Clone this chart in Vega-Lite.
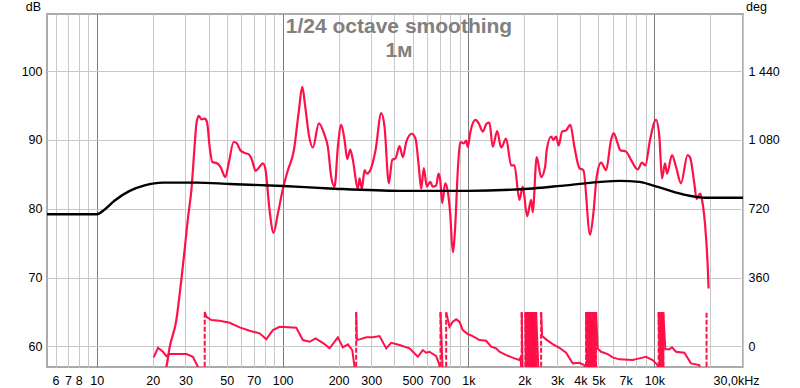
{
  "$schema": "https://vega.github.io/schema/vega-lite/v6.json",
  "width": 696,
  "height": 353,
  "autosize": {"type": "none"},
  "padding": {"left": 47, "top": 14, "right": 57, "bottom": 21},
  "background": "white",
  "config": {
    "view": {"stroke": "#ababab", "strokeWidth": 2},
    "font": "Liberation Sans"
  },
  "title": {
    "text": "1/24 octave smoothing",
    "subtitle": "1м",
    "anchor": "middle",
    "frame": "group",
    "offset": -61,
    "dx": 4,
    "font": "Liberation Sans",
    "fontSize": 21,
    "fontWeight": "bold",
    "color": "#808080",
    "subtitleFont": "Liberation Sans",
    "subtitleFontSize": 21,
    "subtitleFontWeight": "bold",
    "subtitleColor": "#808080",
    "subtitlePadding": 3
  },
  "datasets": {
    "mag": [
      {"freq": 21.8, "db": 54.4}, {"freq": 23.7, "db": 57.0}, {"freq": 24.7, "db": 59.9}, {"freq": 26.8, "db": 63.8},
      {"freq": 28.5, "db": 69.6}, {"freq": 29.7, "db": 74.0}, {"freq": 31.0, "db": 78.8}, {"freq": 32.3, "db": 82.7},
      {"freq": 33.6, "db": 89.0}, {"freq": 34.4, "db": 92.4}, {"freq": 35.4, "db": 93.5}, {"freq": 36.6, "db": 93.0},
      {"freq": 38.1, "db": 93.1}, {"freq": 39.2, "db": 92.6}, {"freq": 40.5, "db": 89.0}, {"freq": 41.9, "db": 86.8},
      {"freq": 44.4, "db": 86.6}, {"freq": 46.3, "db": 86.1}, {"freq": 49.2, "db": 84.6}, {"freq": 51.3, "db": 86.6},
      {"freq": 54.5, "db": 89.7}, {"freq": 56.4, "db": 89.6}, {"freq": 59.2, "db": 88.5}, {"freq": 62.5, "db": 88.1},
      {"freq": 65.9, "db": 87.9}, {"freq": 68.4, "db": 87.1}, {"freq": 71.6, "db": 85.5}, {"freq": 75.2, "db": 86.1},
      {"freq": 78.4, "db": 86.6}, {"freq": 81.0, "db": 85.6}, {"freq": 85.1, "db": 79.8}, {"freq": 89.4, "db": 76.5},
      {"freq": 94.3, "db": 79.3}, {"freq": 100.4, "db": 82.9}, {"freq": 106.8, "db": 85.6}, {"freq": 115.0, "db": 88.5},
      {"freq": 121.9, "db": 93.9}, {"freq": 127.6, "db": 97.7}, {"freq": 132.4, "db": 94.8}, {"freq": 138.5, "db": 90.7},
      {"freq": 145.5, "db": 88.9}, {"freq": 156.7, "db": 92.4}, {"freq": 168.2, "db": 90.7}, {"freq": 175.2, "db": 89.0},
      {"freq": 182.7, "db": 84.6}, {"freq": 190.4, "db": 83.2}, {"freq": 198.3, "db": 89.0}, {"freq": 206.8, "db": 92.2},
      {"freq": 215.4, "db": 90.0}, {"freq": 222.7, "db": 87.2}, {"freq": 231.2, "db": 88.6}, {"freq": 238.8, "db": 87.1},
      {"freq": 254.0, "db": 82.9}, {"freq": 259.4, "db": 84.4}, {"freq": 266.9, "db": 82.9}, {"freq": 276.0, "db": 85.6},
      {"freq": 284.0, "db": 85.1}, {"freq": 296.2, "db": 85.6}, {"freq": 316.2, "db": 88.5}, {"freq": 339.4, "db": 93.9},
      {"freq": 353.6, "db": 91.9}, {"freq": 372.9, "db": 83.7}, {"freq": 388.9, "db": 87.1}, {"freq": 405.1, "db": 87.3},
      {"freq": 425.6, "db": 89.1}, {"freq": 443.6, "db": 87.5}, {"freq": 462.7, "db": 89.7}, {"freq": 495.8, "db": 90.9},
      {"freq": 519.0, "db": 90.2}, {"freq": 540.6, "db": 86.1}, {"freq": 556.9, "db": 82.9}, {"freq": 575.1, "db": 85.9},
      {"freq": 596.9, "db": 83.2}, {"freq": 622.6, "db": 83.9}, {"freq": 643.0, "db": 83.2}, {"freq": 670.6, "db": 83.4},
      {"freq": 690.1, "db": 85.1}, {"freq": 704.7, "db": 84.2}, {"freq": 722.4, "db": 80.8}, {"freq": 749.7, "db": 83.7},
      {"freq": 774.2, "db": 82.5}, {"freq": 797.6, "db": 79.3}, {"freq": 823.7, "db": 73.7}, {"freq": 848.5, "db": 77.4},
      {"freq": 876.3, "db": 85.6}, {"freq": 905.9, "db": 89.7}, {"freq": 943.5, "db": 89.5}, {"freq": 971.9, "db": 89.9},
      {"freq": 991.3, "db": 89.0}, {"freq": 1025, "db": 91.2}, {"freq": 1090, "db": 92.9}, {"freq": 1136, "db": 92.4},
      {"freq": 1194, "db": 91.2}, {"freq": 1254, "db": 92.4}, {"freq": 1297, "db": 92.5}, {"freq": 1351, "db": 89.0},
      {"freq": 1427, "db": 91.3}, {"freq": 1499, "db": 88.9}, {"freq": 1595, "db": 90.2}, {"freq": 1697, "db": 86.3},
      {"freq": 1767, "db": 86.3}, {"freq": 1880, "db": 81.3}, {"freq": 1959, "db": 83.2}, {"freq": 2069, "db": 78.9},
      {"freq": 2174, "db": 81.3}, {"freq": 2217, "db": 79.5}, {"freq": 2329, "db": 87.5}, {"freq": 2460, "db": 84.6},
      {"freq": 2585, "db": 86.1}, {"freq": 2636, "db": 88.5}, {"freq": 2783, "db": 90.5}, {"freq": 2864, "db": 90.0},
      {"freq": 2961, "db": 90.5}, {"freq": 3058, "db": 89.2}, {"freq": 3190, "db": 91.2}, {"freq": 3352, "db": 91.4},
      {"freq": 3534, "db": 92.2}, {"freq": 3715, "db": 89.0}, {"freq": 3953, "db": 85.9}, {"freq": 4153, "db": 85.6},
      {"freq": 4511, "db": 76.2}, {"freq": 4699, "db": 79.3}, {"freq": 4895, "db": 84.6}, {"freq": 5170, "db": 86.7},
      {"freq": 5499, "db": 85.6}, {"freq": 5850, "db": 90.0}, {"freq": 6041, "db": 91.0}, {"freq": 6348, "db": 89.5},
      {"freq": 6563, "db": 88.5}, {"freq": 7044, "db": 88.3}, {"freq": 7493, "db": 87.1}, {"freq": 8133, "db": 85.7},
      {"freq": 8589, "db": 86.7}, {"freq": 8947, "db": 86.3}, {"freq": 9481, "db": 90.0}, {"freq": 10212, "db": 92.9},
      {"freq": 10639, "db": 90.5}, {"freq": 11001, "db": 84.4}, {"freq": 11415, "db": 86.6}, {"freq": 11701, "db": 85.1},
      {"freq": 12450, "db": 87.8}, {"freq": 13083, "db": 86.1}, {"freq": 13912, "db": 83.7}, {"freq": 15101, "db": 87.8},
      {"freq": 15557, "db": 87.5}, {"freq": 16412, "db": 83.7}, {"freq": 16886, "db": 81.4}, {"freq": 17613, "db": 82.2},
      {"freq": 18055, "db": 81.3}, {"freq": 18970, "db": 75.9}, {"freq": 19350, "db": 72.0}, {"freq": 19590, "db": 68.4}
    ],
    "target": [
      {"freq": 5.4, "db": 79.2}, {"freq": 10, "db": 79.2}, {"freq": 11.04, "db": 79.9}, {"freq": 12.5, "db": 81.2},
      {"freq": 15.04, "db": 82.6}, {"freq": 18.1, "db": 83.4}, {"freq": 22.7, "db": 83.8}, {"freq": 34.4, "db": 83.8},
      {"freq": 51.9, "db": 83.6}, {"freq": 100.4, "db": 83.3}, {"freq": 178.9, "db": 82.95}, {"freq": 425.6, "db": 82.6},
      {"freq": 991, "db": 82.6}, {"freq": 2217, "db": 82.95}, {"freq": 3352, "db": 83.4}, {"freq": 6482, "db": 84.05},
      {"freq": 8309, "db": 83.9}, {"freq": 9793, "db": 83.4}, {"freq": 14196, "db": 82.1}, {"freq": 18970, "db": 81.6},
      {"freq": 30000, "db": 81.6}
    ],
    "phase": [
      {"seg": 1, "freq": 20.25, "deg": -57.6}, {"seg": 1, "freq": 21.36, "deg": -7.3}, {"seg": 1, "freq": 22.72, "deg": -28.3},
      {"seg": 1, "freq": 23.7, "deg": -50.8}, {"seg": 1, "freq": 24.7, "deg": -40.3}, {"seg": 1, "freq": 26.8, "deg": -40.3},
      {"seg": 1, "freq": 30.4, "deg": -40.3}, {"seg": 1, "freq": 32.9, "deg": -54.4}, {"seg": 1, "freq": 35.0, "deg": -106.8},
      {"seg": 1, "freq": 37.5, "deg": -180},
      {"seg": 2, "freq": 38.1, "deg": 180}, {"seg": 2, "freq": 38.9, "deg": 155}, {"seg": 2, "freq": 41.4, "deg": 138},
      {"seg": 2, "freq": 45.8, "deg": 134}, {"seg": 2, "freq": 51.9, "deg": 123.5}, {"seg": 2, "freq": 58.7, "deg": 99.4},
      {"seg": 2, "freq": 66.5, "deg": 81.6}, {"seg": 2, "freq": 75.2, "deg": 68}, {"seg": 2, "freq": 81.7, "deg": 36.6},
      {"seg": 2, "freq": 88.7, "deg": 85.3}, {"seg": 2, "freq": 96.3, "deg": 102.6}, {"seg": 2, "freq": 118.5, "deg": 97.3},
      {"seg": 2, "freq": 128.5, "deg": 33}, {"seg": 2, "freq": 139.7, "deg": 24}, {"seg": 2, "freq": 150.5, "deg": 41.9},
      {"seg": 2, "freq": 168.2, "deg": 12}, {"seg": 2, "freq": 178.9, "deg": -10.5}, {"seg": 2, "freq": 198.3, "deg": 47.1},
      {"seg": 2, "freq": 211, "deg": -5.2}, {"seg": 2, "freq": 224.4, "deg": 10.5}, {"seg": 2, "freq": 237, "deg": -19.4},
      {"seg": 2, "freq": 243.8, "deg": -106.8}, {"seg": 2, "freq": 248.4, "deg": -180},
      {"seg": 3, "freq": 248.8, "deg": 180}, {"seg": 3, "freq": 250.9, "deg": 33}, {"seg": 3, "freq": 259.4, "deg": 36.6},
      {"seg": 3, "freq": 281.8, "deg": 47.1}, {"seg": 3, "freq": 305.8, "deg": 47.1}, {"seg": 3, "freq": 332.3, "deg": 53.9},
      {"seg": 3, "freq": 361, "deg": -10.5}, {"seg": 3, "freq": 384, "deg": 18.8}, {"seg": 3, "freq": 425.6, "deg": 6.8},
      {"seg": 3, "freq": 481.7, "deg": -10.5}, {"seg": 3, "freq": 534, "deg": -54.4}, {"seg": 3, "freq": 568, "deg": -19.4},
      {"seg": 3, "freq": 592, "deg": -33.5}, {"seg": 3, "freq": 617, "deg": -28.3}, {"seg": 3, "freq": 670.6, "deg": -50.8},
      {"seg": 3, "freq": 698.5, "deg": -97.9}, {"seg": 3, "freq": 705, "deg": -180},
      {"seg": 4, "freq": 707.1, "deg": 180}, {"seg": 4, "freq": 729.4, "deg": -180},
      {"seg": 5, "freq": 758.7, "deg": 180}, {"seg": 5, "freq": 790.4, "deg": 102.6}, {"seg": 5, "freq": 823.7, "deg": 128.7},
      {"seg": 5, "freq": 858.7, "deg": 141.3}, {"seg": 5, "freq": 894.6, "deg": 128.7}, {"seg": 5, "freq": 932, "deg": 85.3},
      {"seg": 5, "freq": 991.3, "deg": 64.4}, {"seg": 5, "freq": 1054, "deg": 53.9}, {"seg": 5, "freq": 1146, "deg": 33},
      {"seg": 5, "freq": 1245, "deg": 29.3}, {"seg": 5, "freq": 1324, "deg": -2.1}, {"seg": 5, "freq": 1409, "deg": -10.5},
      {"seg": 5, "freq": 1468, "deg": -28.3}, {"seg": 5, "freq": 1595, "deg": -45.5}, {"seg": 5, "freq": 1767, "deg": -62.8},
      {"seg": 5, "freq": 1880, "deg": -71.7}, {"seg": 5, "freq": 1903, "deg": -60}, {"seg": 5, "freq": 1925, "deg": -110},
      {"seg": 5, "freq": 1934, "deg": -180},
      {"seg": 6, "freq": 1934, "deg": 180}, {"seg": 6, "freq": 1958, "deg": -180},
      {"seg": 7, "freq": 2025, "deg": 180}, {"seg": 7, "freq": 2050, "deg": -180},
      {"seg": 8, "freq": 2050, "deg": 180}, {"seg": 8, "freq": 2076, "deg": -180},
      {"seg": 9, "freq": 2076, "deg": 180}, {"seg": 9, "freq": 2102, "deg": -180},
      {"seg": 10, "freq": 2102, "deg": 180}, {"seg": 10, "freq": 2128, "deg": -180},
      {"seg": 11, "freq": 2128, "deg": 180}, {"seg": 11, "freq": 2154, "deg": -180},
      {"seg": 12, "freq": 2154, "deg": 180}, {"seg": 12, "freq": 2181, "deg": -180},
      {"seg": 13, "freq": 2181, "deg": 180}, {"seg": 13, "freq": 2208, "deg": -180},
      {"seg": 14, "freq": 2208, "deg": 180}, {"seg": 14, "freq": 2236, "deg": -180},
      {"seg": 15, "freq": 2236, "deg": 180}, {"seg": 15, "freq": 2264, "deg": -180},
      {"seg": 16, "freq": 2264, "deg": 180}, {"seg": 16, "freq": 2292, "deg": -180},
      {"seg": 17, "freq": 2292, "deg": 180}, {"seg": 17, "freq": 2312, "deg": -180},
      {"seg": 18, "freq": 2312, "deg": 180}, {"seg": 18, "freq": 2390, "deg": -180},
      {"seg": 19, "freq": 2460, "deg": 180}, {"seg": 19, "freq": 2491, "deg": 53.9}, {"seg": 19, "freq": 2617, "deg": 36.6},
      {"seg": 19, "freq": 2839, "deg": 12}, {"seg": 19, "freq": 3085, "deg": -7.3}, {"seg": 19, "freq": 3352, "deg": -33.5},
      {"seg": 19, "freq": 3638, "deg": -89}, {"seg": 19, "freq": 3953, "deg": -85.8}, {"seg": 19, "freq": 4205, "deg": -97.9},
      {"seg": 19, "freq": 4294, "deg": -180},
      {"seg": 20, "freq": 4294, "deg": 180}, {"seg": 20, "freq": 4347, "deg": -180},
      {"seg": 21, "freq": 4347, "deg": 180}, {"seg": 21, "freq": 4402, "deg": -180},
      {"seg": 22, "freq": 4402, "deg": 180}, {"seg": 22, "freq": 4456, "deg": -180},
      {"seg": 23, "freq": 4456, "deg": 180}, {"seg": 23, "freq": 4512, "deg": -180},
      {"seg": 24, "freq": 4512, "deg": 180}, {"seg": 24, "freq": 4568, "deg": -180},
      {"seg": 25, "freq": 4568, "deg": 180}, {"seg": 25, "freq": 4625, "deg": -180},
      {"seg": 26, "freq": 4625, "deg": 180}, {"seg": 26, "freq": 4682, "deg": -180},
      {"seg": 27, "freq": 4682, "deg": 180}, {"seg": 27, "freq": 4740, "deg": -180},
      {"seg": 28, "freq": 4740, "deg": 180}, {"seg": 28, "freq": 4799, "deg": -180},
      {"seg": 29, "freq": 4799, "deg": 180}, {"seg": 29, "freq": 4859, "deg": -180},
      {"seg": 30, "freq": 4859, "deg": 180}, {"seg": 30, "freq": 4955, "deg": -10.5}, {"seg": 30, "freq": 5170, "deg": -28.3},
      {"seg": 30, "freq": 5610, "deg": -40.3}, {"seg": 30, "freq": 5967, "deg": -57.6}, {"seg": 30, "freq": 6482, "deg": -68},
      {"seg": 30, "freq": 7644, "deg": -71.7}, {"seg": 30, "freq": 8309, "deg": -62.8}, {"seg": 30, "freq": 9024, "deg": -54.4},
      {"seg": 30, "freq": 9793, "deg": -71.7}, {"seg": 30, "freq": 10417, "deg": -97.9}, {"seg": 30, "freq": 10547, "deg": -180},
      {"seg": 31, "freq": 10547, "deg": 180}, {"seg": 31, "freq": 10731, "deg": -180},
      {"seg": 32, "freq": 10731, "deg": 180}, {"seg": 32, "freq": 10865, "deg": -180},
      {"seg": 33, "freq": 10865, "deg": 180}, {"seg": 33, "freq": 11000, "deg": -180},
      {"seg": 34, "freq": 11000, "deg": 180}, {"seg": 34, "freq": 11137, "deg": -180},
      {"seg": 35, "freq": 11137, "deg": 180}, {"seg": 35, "freq": 11178, "deg": -180},
      {"seg": 36, "freq": 11178, "deg": 180}, {"seg": 36, "freq": 11458, "deg": -14}, {"seg": 36, "freq": 12036, "deg": -15.7},
      {"seg": 36, "freq": 12450, "deg": -5}, {"seg": 36, "freq": 13083, "deg": -28.3}, {"seg": 36, "freq": 14502, "deg": -33.5},
      {"seg": 36, "freq": 15751, "deg": -89}, {"seg": 36, "freq": 17459, "deg": -97.9}, {"seg": 36, "freq": 18200, "deg": -180}
    ],
    "wraps": [
      {"freq": 38.1, "lo": -180, "hi": 180}, {"freq": 248.8, "lo": -180, "hi": 180}, {"freq": 707.1, "lo": -180, "hi": 180},
      {"freq": 758.7, "lo": -180, "hi": 180}, {"freq": 1934, "lo": -180, "hi": 180},
      {"freq": 2025, "lo": -180, "hi": 180}, {"freq": 2050, "lo": -180, "hi": 180}, {"freq": 2076, "lo": -180, "hi": 180},
      {"freq": 2102, "lo": -180, "hi": 180}, {"freq": 2128, "lo": -180, "hi": 180}, {"freq": 2154, "lo": -180, "hi": 180},
      {"freq": 2181, "lo": -180, "hi": 180}, {"freq": 2208, "lo": -180, "hi": 180}, {"freq": 2236, "lo": -180, "hi": 180},
      {"freq": 2264, "lo": -180, "hi": 180}, {"freq": 2292, "lo": -180, "hi": 180}, {"freq": 2312, "lo": -180, "hi": 180},
      {"freq": 2460, "lo": -180, "hi": 180},
      {"freq": 4294, "lo": -180, "hi": 180}, {"freq": 4347, "lo": -180, "hi": 180}, {"freq": 4402, "lo": -180, "hi": 180},
      {"freq": 4456, "lo": -180, "hi": 180}, {"freq": 4512, "lo": -180, "hi": 180}, {"freq": 4568, "lo": -180, "hi": 180},
      {"freq": 4625, "lo": -180, "hi": 180}, {"freq": 4682, "lo": -180, "hi": 180}, {"freq": 4740, "lo": -180, "hi": 180},
      {"freq": 4799, "lo": -180, "hi": 180}, {"freq": 4859, "lo": -180, "hi": 180},
      {"freq": 10547, "lo": -180, "hi": 180}, {"freq": 10731, "lo": -180, "hi": 180}, {"freq": 10865, "lo": -180, "hi": 180},
      {"freq": 11000, "lo": -180, "hi": 180}, {"freq": 11137, "lo": -180, "hi": 180}, {"freq": 11178, "lo": -180, "hi": 180},
      {"freq": 19100, "lo": -180, "hi": 180}
    ]
  },
  "encoding": {
    "x": {
      "field": "freq",
      "type": "quantitative",
      "scale": {"type": "log", "domain": [5.4, 30000], "nice": false},
      "axis": {
        "values": [6, 7, 8, 9, 10, 20, 30, 40, 50, 60, 70, 80, 90, 100, 200, 300, 400, 500, 600, 700, 800, 900, 1000, 2000, 3000, 4000, 5000, 6000, 7000, 8000, 9000, 10000, 20000, 30000],
        "grid": true,
        "gridColor": {"condition": {"test": "datum.value == 10 || datum.value == 100 || datum.value == 1000 || datum.value == 10000", "value": "#7c7c7c"}, "value": "#c8c8c8"},
        "gridWidth": 1,
        "gridOpacity": 1,
        "ticks": false,
        "domain": false,
        "labelPadding": 7,
        "labelFont": "Liberation Sans",
        "labelFontSize": 12.5,
        "labelColor": "#000000",
        "labelOverlap": false,
        "labelFlush": false,
        "labelBound": false,
        "labelOffset": {"condition": {"test": "datum.value == 30000", "value": -7}, "value": 0},
        "labelExpr": "datum.value == 30000 ? '30,0kHz' : indexof([6,7,8,10,20,30,50,70,100,200,300,500,700], datum.value) >= 0 ? '' + datum.value : indexof([1000,2000,3000,4000,5000,7000,10000], datum.value) >= 0 ? (datum.value / 1000) + 'k' : ''",
        "title": null
      }
    }
  },
  "layer": [
    {
      "encoding": {
        "y": {
          "field": "db",
          "type": "quantitative",
          "scale": {"domain": [57, 108.3], "nice": false, "zero": false},
          "axis": {
            "values": [60, 70, 80, 90, 100],
            "grid": true,
            "gridColor": "#c8c8c8",
            "gridOpacity": 1,
            "ticks": false,
            "domain": false,
            "labelPadding": 5,
            "labelFont": "Liberation Sans",
            "labelFontSize": 12.5,
            "labelColor": "#000000",
            "title": "dB",
            "titleAngle": 0,
            "titleX": -14,
            "titleY": -4,
            "titleAlign": "center",
            "titleBaseline": "alphabetic",
            "titleFont": "Liberation Sans",
            "titleFontWeight": "normal",
            "titleFontSize": 12.5,
            "titleColor": "#000000"
          }
        }
      },
      "layer": [
        {
          "data": {"name": "mag"},
          "mark": {"type": "line", "color": "#ff1048", "strokeWidth": 2.2, "clip": true, "interpolate": "monotone"}
        },
        {
          "data": {"name": "target"},
          "mark": {"type": "line", "color": "#000000", "strokeWidth": 2.4, "clip": true, "interpolate": "monotone"}
        }
      ]
    },
    {
      "encoding": {
        "y": {
          "field": "deg",
          "type": "quantitative",
          "scale": {"domain": [-108, 1738.8], "nice": false, "zero": false},
          "axis": {
            "orient": "right",
            "values": [0, 360, 720, 1080, 1440],
            "grid": false,
            "ticks": false,
            "domain": false,
            "labelPadding": 5,
            "labelFont": "Liberation Sans",
            "labelFontSize": 12.5,
            "labelColor": "#000000",
            "labelExpr": "datum.value == 1440 ? '1 440' : datum.value == 1080 ? '1 080' : '' + datum.value",
            "title": "deg",
            "titleAngle": 0,
            "titleX": 13,
            "titleY": -4,
            "titleAlign": "center",
            "titleBaseline": "alphabetic",
            "titleFont": "Liberation Sans",
            "titleFontWeight": "normal",
            "titleFontSize": 12.5,
            "titleColor": "#000000"
          }
        }
      },
      "layer": [
        {
          "data": {"name": "phase"},
          "mark": {"type": "line", "color": "#ff1048", "strokeWidth": 2, "clip": true},
          "encoding": {"detail": {"field": "seg", "type": "nominal"}}
        },
        {
          "data": {"name": "wraps"},
          "mark": {"type": "rule", "color": "#ff1048", "strokeWidth": 2, "strokeDash": [5, 2], "clip": true},
          "encoding": {
            "y": {"field": "lo", "type": "quantitative"},
            "y2": {"field": "hi"}
          }
        }
      ]
    }
  ],
  "resolve": {"scale": {"y": "independent"}, "axis": {"y": "independent"}}
}
